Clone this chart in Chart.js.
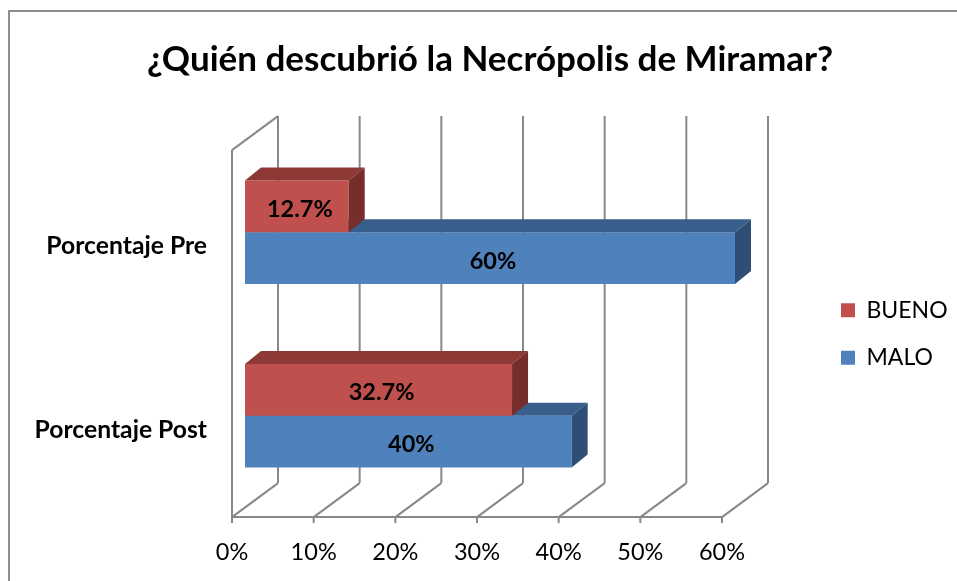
<!DOCTYPE html>
<html><head><meta charset="utf-8">
<script src="https://cdn.jsdelivr.net/npm/chart.js@4.4.0/dist/chart.umd.min.js"></script>
<style>html,body{margin:0;padding:0;background:#fff;} #wrap{width:957px;height:581px;}</style>
</head><body><div id="wrap"><canvas id="c" width="957" height="581"></canvas></div>
<script>
const titleText = '¿Quién descubrió la Necrópolis de Miramar?';
const categories = ['Porcentaje Pre', 'Porcentaje Post'];
const seriesNames = ['BUENO', 'MALO'];
const buenoValues = [12.7, 32.7];
const maloValues = [60, 40];
const xTickValues = [0, 10, 20, 30, 40, 50, 60];

// 3D styling (pixels)
const G = { dx: 46, dy: -34, barDx: 13, barDy: -9.6, topDx: 16, topDy: -13 };
const faceColors = [
  { top: '#8e3936', side: '#772d2b' },
  { top: '#385e8c', side: '#2f4e75' }
];

Chart.defaults.font.family = 'Lato';
Chart.defaults.color = '#000';

function line(ctx, x1, y1, x2, y2) { ctx.beginPath(); ctx.moveTo(x1, y1); ctx.lineTo(x2, y2); ctx.stroke(); }

const frame3d = {
  id: 'frame3d',
  beforeDraw(chart) {
    const ctx = chart.ctx;
    ctx.save();
    ctx.fillStyle = '#fff';
    ctx.fillRect(0, 0, chart.width, chart.height);
    ctx.strokeStyle = '#8e8e8e';
    ctx.lineWidth = 2;
    line(ctx, 9, 11, chart.width, 11);
    line(ctx, 9, 10, 9, chart.height);
    ctx.restore();
  },
  afterLayout(chart) {
    const lg = chart.legend;
    if (lg) {
      const dx = 816.5 - lg.left;
      const dy = (668 - (lg.top + lg.bottom)) / 2;
      lg.left += dx; lg.top += dy; lg.bottom += dy;
      lg.right = chart.width;
      lg.width = lg.right - lg.left;
    }
    const tb = chart.titleBlock;
    if (tb) {
      const dx = 490 - (tb.left + tb.right) / 2;
      tb.left += dx; tb.right += dx;
    }
  },
  beforeDatasetsDraw(chart) {
    const ctx = chart.ctx, xs = chart.scales.x, a = chart.chartArea;
    const fy = a.bottom - G.barDy, ty = a.top - G.barDy;
    ctx.save();
    ctx.strokeStyle = '#888888';
    ctx.lineWidth = 2;
    const px = xTickValues.map(v => xs.getPixelForValue(v) - G.barDx);
    px.forEach(X => {
      line(ctx, X, fy, X + G.dx, fy + G.dy);
      line(ctx, X + G.dx, fy + G.dy, X + G.dx, ty + G.dy);
      line(ctx, X, fy, X, fy + 6);
    });
    line(ctx, px[0], fy, px[px.length - 1], fy);
    line(ctx, px[0], fy, px[0], ty);
    line(ctx, px[0], ty, px[0] + G.dx, ty + G.dy);
    ctx.restore();
  },
  afterDatasetDraw(chart, args) {
    const ctx = chart.ctx, meta = args.meta, col = faceColors[args.index];
    ctx.save();
    meta.data.forEach(el => {
      const p = el.getProps(['x', 'y', 'base', 'height'], true);
      const l = Math.min(p.base, p.x), r = Math.max(p.base, p.x);
      const t = p.y - p.height / 2, b = p.y + p.height / 2;
      ctx.fillStyle = col.top;
      ctx.beginPath();
      ctx.moveTo(l, t); ctx.lineTo(r, t); ctx.lineTo(r + G.topDx, t + G.topDy); ctx.lineTo(l + G.topDx, t + G.topDy);
      ctx.closePath(); ctx.fill();
      ctx.fillStyle = col.side;
      ctx.beginPath();
      ctx.moveTo(r, t); ctx.lineTo(r + G.topDx, t + G.topDy); ctx.lineTo(r + G.topDx, b + G.topDy); ctx.lineTo(r, b);
      ctx.closePath(); ctx.fill();
    });
    ctx.restore();
  },
  afterDatasetsDraw(chart) {
    const ctx = chart.ctx;
    ctx.save();
    ctx.font = 'bold 23.5px Lato';
    ctx.fillStyle = '#000';
    ctx.textAlign = 'center';
    ctx.textBaseline = 'middle';
    chart.data.datasets.forEach((ds, di) => {
      const meta = chart.getDatasetMeta(di);
      meta.data.forEach((el, i) => {
        const p = el.getProps(['x', 'y', 'base'], true);
        ctx.fillText(ds.data[i] + '%', (p.x + p.base) / 2 + 3, p.y + 3);
      });
    });
    ctx.restore();
  }
};

new Chart(document.getElementById('c'), {
  type: 'bar',
  data: {
    labels: categories,
    datasets: [
      { label: seriesNames[0], data: buenoValues, backgroundColor: '#c0504d', borderWidth: 0 },
      { label: seriesNames[1], data: maloValues, backgroundColor: '#4f81bd', borderWidth: 0 }
    ]
  },
  options: {
    indexAxis: 'y',
    responsive: false,
    animation: false,
    devicePixelRatio: 1,
    categoryPercentage: 0.565,
    barPercentage: 1,
    layout: { padding: { left: 23, right: 102, top: 0, bottom: 0 } },
    plugins: {
      title: {
        display: true, text: titleText, color: '#000',
        font: { family: 'Lato', size: 35, weight: 'bold' },
        padding: { top: 39, bottom: 59.5 }
      },
      legend: {
        position: 'right',
        maxWidth: 120,
        labels: { boxWidth: 14, boxHeight: 14, padding: 24.5, color: '#000', font: { family: 'Lato', size: 23 } }
      },
      tooltip: { enabled: false }
    },
    scales: {
      x: {
        min: 0, max: 60,
        afterBuildTicks: s => { s.ticks = xTickValues.map(v => ({ value: v })); },
        afterFit: s => { s.height = 73.5; },
        grid: { display: false, drawTicks: false },
        border: { display: false },
        ticks: { labelOffset: -G.barDx, padding: 31, color: '#000', font: { family: 'Lato', size: 23.5 }, callback: v => v + '%' }
      },
      y: {
        afterFit: s => { s.width = 222; },
        grid: { display: false, drawTicks: false },
        border: { display: false },
        ticks: { labelOffset: 14, padding: 38, color: '#000', font: { family: 'Lato', size: 24.7, weight: 'bold' } }
      }
    }
  },
  plugins: [frame3d]
});
</script></body></html>
